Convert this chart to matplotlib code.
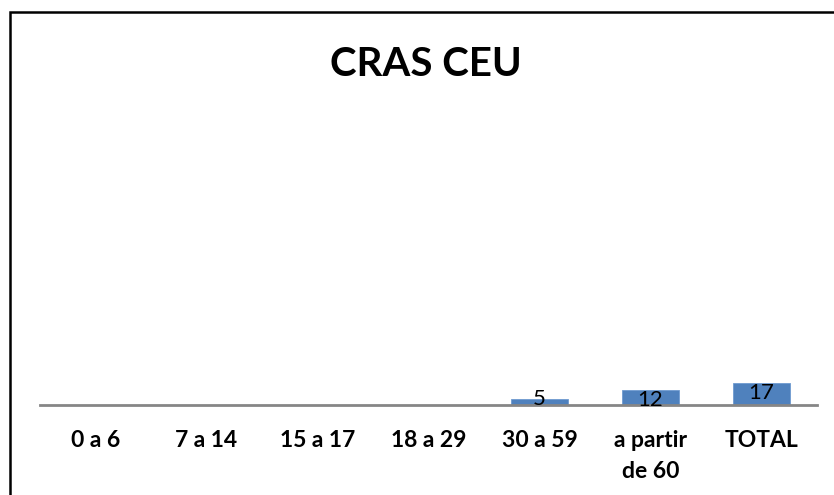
import matplotlib
matplotlib.use("Agg")
import matplotlib.pyplot as plt
from matplotlib.patches import Rectangle

categories = ["0 a 6", "7 a 14", "15 a 17", "18 a 29", "30 a 59", "a partir\nde 60", "TOTAL"]
values = [0, 0, 0, 0, 5, 12, 17]
title = "CRAS CEU"

plt.rcParams['font.family'] = ['Lato', 'DejaVu Sans']

fig = plt.figure(figsize=(8.34, 4.95), dpi=100)
fig.patch.set_facecolor("white")

# chart frame (only top and left visible)
fig.patches.append(Rectangle((10/834, -0.1), 1.2, 1 - 12/495 + 0.1,
                             transform=fig.transFigure, fill=False,
                             edgecolor="black", linewidth=1.8))

ax = fig.add_axes([40/834, 1 - 405/495, (817 - 40)/834, (405 - 110)/495])
x = list(range(len(categories)))
bars = ax.bar(x, values, width=0.51, color="#4F81BD", edgecolor="#6F9AD0", linewidth=0.6, zorder=2)

ax.set_xlim(-0.5, len(categories) - 0.5)
ax.set_ylim(0, 230)
ax.set_yticks([])
for s in ["top", "right", "left"]:
    ax.spines[s].set_visible(False)
ax.spines["bottom"].set_color("#868686")
ax.spines["bottom"].set_linewidth(2)
ax.spines["bottom"].set_zorder(3)
ax.set_xticks(x)
ax.set_xticklabels(categories, fontsize=16.5, fontweight="bold", linespacing=1.6, va="top")
ax.tick_params(axis="x", length=0, pad=18)

for xi, v in zip(x, values):
    if v <= 0:
        continue
    ax.annotate(str(v), (xi, v), xytext=(0, 0 if v > 8 else 7), textcoords="offset points",
                ha="center", va="top", fontsize=16, color="black", zorder=4)

fig.text(426/834, 1 - 64/495, title, ha="center", va="center", fontsize=29, fontweight="bold")

fig.savefig("out.png", dpi=100, facecolor="white")
